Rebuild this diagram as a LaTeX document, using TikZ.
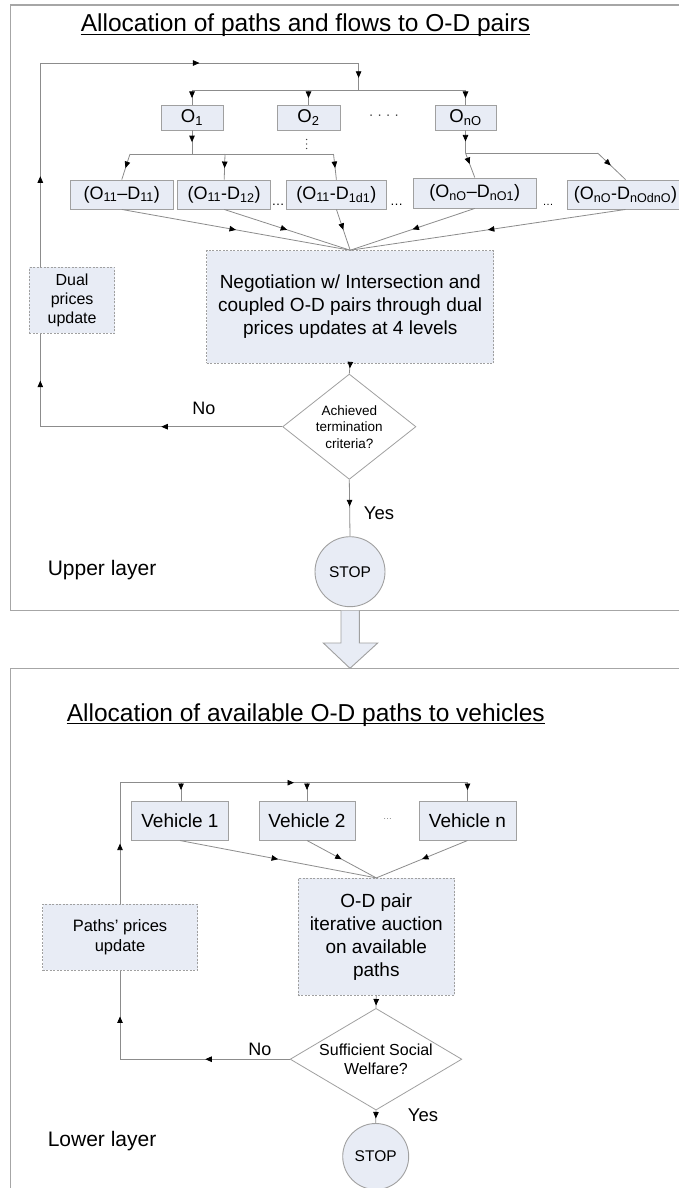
\documentclass[tikz,border=0pt]{standalone}
\usepackage{fontspec}
\setmainfont{Liberation Sans}
\usetikzlibrary{arrows.meta,shapes.geometric,decorations.markings}
\definecolor{boxfill}{HTML}{E8ECF5}
\definecolor{boxline}{HTML}{A0A0A0}
\definecolor{connc}{HTML}{8C8C8C}
\definecolor{framec}{HTML}{A6A6A6}
\begin{document}
\begin{tikzpicture}[x=1pt,y=-1pt,
  f/.style 2 args={font=\fontsize{#1}{#2}\selectfont},
  solidbox/.style={draw=boxline,fill=boxfill,line width=0.9pt,inner sep=0pt,align=center},
  dashbox/.style={solidbox,dash pattern=on 2pt off 1.5pt},
  dia/.style={shape=diamond,draw=boxline,fill=white,line width=0.8pt,inner sep=0pt},
  stopc/.style={circle,draw=boxline,fill=boxfill,line width=0.9pt,inner sep=0pt,f={15.5}{18}},
  cn/.style={draw=connc,line width=0.8pt},
  tip/.style={postaction={decorate,decoration={markings,mark=at position #1 with {\arrow{Triangle[length=6.5pt,width=5.5pt,color=black,fill=black]}}}}},
  titlestyle/.style={inner sep=0pt,f={24.5}{28}},
  lbl/.style={inner sep=0pt}
]
\useasboundingbox (0,0) rectangle (679,1188);
\clip (0,0) rectangle (679,1188);
\fill[white] (0,0) rectangle (679,1188);

% frames
\draw[draw=framec,line width=1.2pt] (10.8,5) rectangle (700,610.7);
\draw[draw=framec,line width=1.2pt] (10.8,668.3) rectangle (700,1210);
% block arrow between layers
\draw[draw=boxline,fill=boxfill,line width=0.9pt] (341,610.7) -- (341,643) -- (323.3,643) -- (350,668.3) -- (377.7,643) -- (359.3,643) -- (359.3,610.7);

% ---------- upper layer ----------
\node[titlestyle,anchor=base] (t1) at (305.5,32) {Allocation of paths and flows to O-D pairs};
\draw[line width=1.1pt] ([yshift=-2.6pt]t1.base west) -- ([yshift=-2.6pt]t1.base east);

\node[solidbox,f={18.5}{20},minimum width=62pt,minimum height=25pt] (O1) at (192,117.5) {O\textsubscript{1}};
\node[solidbox,f={18.5}{20},minimum width=63pt,minimum height=25pt] (O2) at (308.5,117.5) {O\textsubscript{2}};
\node[solidbox,f={18.5}{20},minimum width=61pt,minimum height=25pt] (OnO) at (465.5,117.5) {O\textsubscript{nO}};
\node[lbl,f={14}{14},text=black!75] (odots) at (384,117) {· · · ·};
\foreach \yy in {139.5,144,148.5} \fill[black!75] (306.6,\yy) circle (0.7pt);

\node[solidbox,f={18}{20},minimum width=102.4pt,minimum height=29pt] (B1) at (121.8,194.5) {(O\textsubscript{11}–D\textsubscript{11})};
\node[solidbox,f={18}{20},minimum width=93pt,minimum height=29pt] (B2) at (224.2,194.5) {(O\textsubscript{11}-D\textsubscript{12})};
\node[solidbox,f={18}{20},minimum width=100.7pt,minimum height=29pt] (B3) at (336.4,194.5) {(O\textsubscript{11}-D\textsubscript{1d1})};
\node[solidbox,f={18}{20},minimum width=122.4pt,minimum height=30pt] (B4) at (474.8,193) {(O\textsubscript{nO}–D\textsubscript{nO1})};
\node[solidbox,f={18}{20},minimum width=117pt,minimum height=29pt] (B5) at (625.5,194.5) {(O\textsubscript{nO}-D\textsubscript{nOdnO})};
\node[lbl,f={13}{13},anchor=base] (bd1) at (278,205) {…};
\node[lbl,f={13}{13},anchor=base] (bd2) at (396.5,205) {…};
\node[lbl,f={11}{11},anchor=base] (bd3) at (548,205) {…};

\node[dashbox,f={19}{23},minimum width=287pt,minimum height=112.6pt] (neg) at (350.2,307) {Negotiation w/ Intersection and\\coupled O-D pairs through dual\\prices updates at 4 levels};
\node[dashbox,f={16}{19},minimum width=85.3pt,minimum height=66pt] (dual) at (72.1,300.3) {Dual\\prices\\update};

\node[dia,minimum width=133.3pt,minimum height=105.3pt] (d1) at (349.3,426.7) {};
\node[lbl,f={13.5}{16.5},align=center] (d1t) at (d1.center) {Achieved\\termination\\criteria?};
\node[stopc,minimum size=70pt] (s1) at (350,571.7) {STOP};
\node[lbl,f={18}{20}] (no1) at (204,408) {No};
\node[lbl,f={18.5}{20}] (yes1) at (379,513) {Yes};
\node[lbl,f={21}{24},anchor=base west] (ul) at (47.6,575) {Upper layer};

\coordinate (lt) at (40.3,63);
\coordinate (rt) at (358.6,63);
\coordinate (jn) at (358.6,90);
\coordinate (h1L) at (130,154);
\coordinate (h1M) at (192,154);
\coordinate (h1C) at (225,154);
\coordinate (h1R) at (333.5,154);
\coordinate (h2L) at (465.5,153);
\coordinate (h2R) at (597.6,153);

\draw[cn,tip=121pt,tip=288pt] (d1.west) -- (d1.west -| lt) -- (dual.south -| lt);
\draw[cn,tip=90.6pt,tip=363pt,tip=537pt] (dual.north -| lt) -- (lt) -- (rt) -- (jn);
\draw[cn] (O1.north |- jn) -- (OnO.north |- jn);
\draw[cn,tip=8pt] (O1.north |- jn) -- (O1.north);
\draw[cn,tip=8pt] (O2.north |- jn) -- (O2.north);
\draw[cn,tip=8pt] (OnO.north |- jn) -- (OnO.north);
\draw[cn,tip=11.7pt] (O1.south) -- (h1M);
\draw[cn] (h1L) -- (h1R);
\draw[cn,tip=0.55] (h1L) -- (B1.north);
\draw[cn,tip=0.55] (h1C) -- (B2.north);
\draw[cn,tip=0.55] (h1R) -- (B3.north);
\draw[cn,tip=11pt] (OnO.south) -- (h2L);
\draw[cn] (h2L) -- (h2R);
\draw[cn,tip=0.45] (h2L) -- (B4.north);
\draw[cn,tip=0.47] (h2R) -- (B5.north);
\foreach \b in {B1,B2,B3,B4,B5} \draw[cn,tip=0.5] (\b.south) -- (neg.north);
\draw[cn,tip=4.6pt] (neg.south) -- (d1.north);
\draw[cn,tip=26.6pt] (d1.south) -- (s1.north);

% ---------- lower layer ----------
\node[titlestyle,anchor=base] (t2) at (305.8,721) {Allocation of available O-D paths to vehicles};
\draw[line width=1.1pt] ([yshift=-2.4pt]t2.base west) -- ([yshift=-2.4pt]t2.base east);

\node[solidbox,f={19}{21},minimum width=97.7pt,minimum height=38.3pt] (V1) at (179.9,820.9) {Vehicle 1};
\node[solidbox,f={19}{21},minimum width=96pt,minimum height=38.3pt] (V2) at (307,820.9) {Vehicle 2};
\node[solidbox,f={19}{21},minimum width=97pt,minimum height=38.3pt] (Vn) at (467.5,820.9) {Vehicle n};
\node[lbl,f={9}{9},text=black!50] (vdots) at (387.6,819) {…};

\node[dashbox,f={19}{23},minimum width=156.7pt,minimum height=116.7pt] (od) at (376.3,936.7) {O-D pair\\iterative auction\\on available\\paths};
\node[dashbox,f={16.5}{20},minimum width=155pt,minimum height=65.7pt] (paths) at (120,937.2) {Paths’ prices\\update};

\node[dia,minimum width=171.7pt,minimum height=101.7pt] (d2) at (376,1059.2) {};
\node[lbl,f={16}{19.3},align=center] (d2t) at (d2.center) {Sufficient Social\\Welfare?};
\node[stopc,minimum size=66pt] (s2) at (375.7,1156.5) {STOP};
\node[lbl,f={18}{20}] (no2) at (260,1049.3) {No};
\node[lbl,f={18.5}{20}] (yes2) at (423,1115) {Yes};
\node[lbl,f={21}{24},anchor=base west] (ll) at (47.6,1146) {Lower layer};

\coordinate (lt2) at (120,782.7);
\coordinate (rt2) at (467.5,782.7);
\coordinate (vb1) at (181,782.7);

\draw[cn,tip=60.3pt,tip=295.2pt] (paths.north) -- (lt2) -- (rt2);
\draw[cn,tip=7.3pt] (vb1) -- (vb1 |- V1.north);
\draw[cn,tip=7.3pt] (V2.north |- lt2) -- (V2.north);
\draw[cn,tip=7.3pt] (Vn.north |- lt2) -- (Vn.north);
\foreach \v in {V1,V2,Vn} \draw[cn,tip=0.5] (\v.south) -- (od.north);
\draw[cn,tip=10pt] (od.south) -- (d2.north);
\draw[cn,tip=84.5pt,tip=212.5pt] (d2.west) -- (d2.west -| lt2) -- (paths.south);
\draw[cn,tip=8pt] (d2.south) -- (s2.north);
\end{tikzpicture}
\end{document}
